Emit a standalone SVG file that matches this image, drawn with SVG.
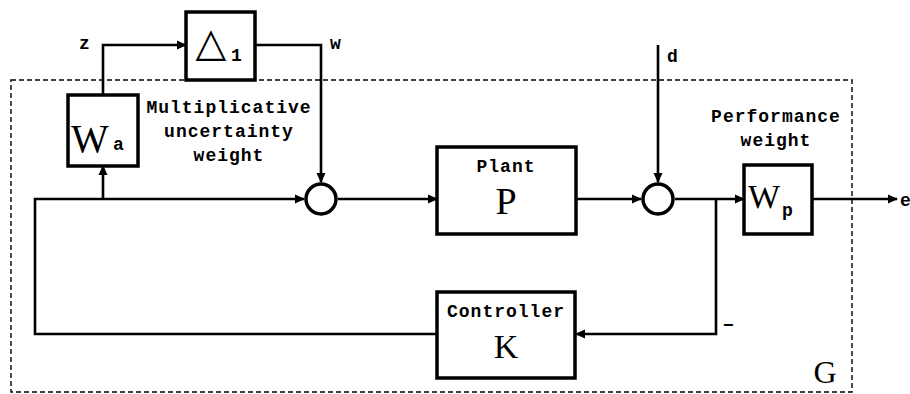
<svg xmlns="http://www.w3.org/2000/svg" width="910" height="394" viewBox="0 0 910 394">
<style>
.box{fill:#fff;stroke:#000;stroke-width:3.5}
.sum{fill:#fff;stroke:#000;stroke-width:3.5}
.wire{fill:none;stroke:#000;stroke-width:2.6}
.lbl{font-family:"Liberation Mono",monospace;font-weight:bold;font-size:18px;letter-spacing:1px;fill:#000}
.big{font-family:"Liberation Serif",serif;fill:#000}
</style>
<defs>
<marker id="ah" markerUnits="userSpaceOnUse" markerWidth="10" markerHeight="10" refX="9" refY="5" orient="auto">
<path d="M0,0.5 L10,5 L0,9.5 Z" fill="#000"/>
</marker>
</defs>
<rect id="G" x="11" y="80" width="841" height="312" fill="none" stroke="#000" stroke-width="1.4" stroke-dasharray="5,3"/>
<text class="big" x="825" y="383" font-size="32" text-anchor="middle">G</text>
<g id="connectors">
<path class="wire" d="M103,95 V45 H186" marker-end="url(#ah)"/>
<path class="wire" d="M255,45 H321 V182" marker-end="url(#ah)"/>
<path class="wire" d="M437,334 H35 V199 H304" marker-end="url(#ah)"/>
<path class="wire" d="M103,199 V166" marker-end="url(#ah)"/>
<path class="wire" d="M338,199 H437" marker-end="url(#ah)"/>
<path class="wire" d="M576,199 H641" marker-end="url(#ah)"/>
<path class="wire" d="M658,45 V182" marker-end="url(#ah)"/>
<path class="wire" d="M675,199 H744" marker-end="url(#ah)"/>
<path class="wire" d="M716,199 V334 H576" marker-end="url(#ah)"/>
<path class="wire" d="M812,199 H897" marker-end="url(#ah)"/>
<text class="lbl" x="79" y="49">z</text>
<text class="lbl" x="330" y="49">w</text>
<text class="lbl" x="667" y="62">d</text>
<text class="lbl" x="900" y="206">e</text>
<text class="lbl" x="723" y="331">−</text>
</g>
<g id="delta">
<rect class="box" x="186" y="12" width="69" height="68"/>
<text x="211" y="56" font-family="DejaVu Sans,sans-serif" font-size="40" text-anchor="middle">△</text>
<text class="lbl" x="231" y="61" font-size="15">1</text>
</g>
<g id="Wa">
<rect class="box" x="68" y="95" width="70" height="71"/>
<text class="big" x="71" y="152" font-size="40">W</text>
<text class="lbl" x="113" y="150">a</text>
<text class="lbl" text-anchor="middle"><tspan x="229" y="113">Multiplicative</tspan><tspan x="229" y="137">uncertainty</tspan><tspan x="229" y="161">weight</tspan></text>
</g>
<g id="sum1"><circle class="sum" cx="321" cy="199" r="15"/></g>
<g id="plant">
<rect class="box" x="437" y="147" width="139" height="87"/>
<text class="lbl" x="506" y="172" text-anchor="middle">Plant</text>
<text class="big" x="506" y="214" font-size="38" text-anchor="middle">P</text>
</g>
<g id="sum2"><circle class="sum" cx="658" cy="199" r="15"/></g>
<g id="Wp">
<rect class="box" x="744" y="165" width="68" height="69"/>
<text class="big" x="748" y="208" font-size="34">W</text>
<text class="lbl" x="782" y="216">p</text>
<text class="lbl" text-anchor="middle"><tspan x="776" y="122">Performance</tspan><tspan x="776" y="146">weight</tspan></text>
</g>
<g id="controller">
<rect class="box" x="437" y="292" width="138" height="86"/>
<text class="lbl" x="506" y="317" text-anchor="middle">Controller</text>
<text class="big" x="506" y="358" font-size="34" text-anchor="middle">K</text>
</g>
</svg>
